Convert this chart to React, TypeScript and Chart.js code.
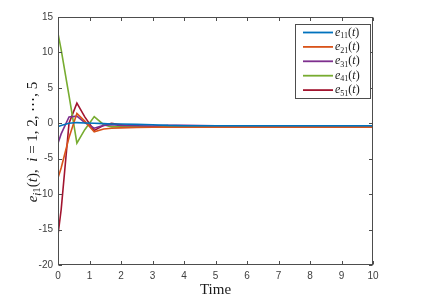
import React, { useEffect, useRef } from 'react';
import { Chart, registerables } from 'chart.js';

Chart.register(...registerables);

// ---- data ----
const TIME = [0, 0.1, 0.35, 0.6, 0.85, 1.15, 1.45, 1.7, 2.0, 2.5, 3, 3.5, 4, 5, 6, 7, 8, 9, 10];
const E11 = [-0.45, -0.3, 0.0, 0.1, 0.05, 0.0, -0.05, -0.1, -0.1, -0.15, -0.2, -0.3, -0.35, -0.35, -0.35, -0.35, -0.35, -0.35, -0.35];
const E21 = [-7.7, -6.3, -2.0, 1.4, 0.3, -1.2, -0.8, -0.7, -0.65, -0.6, -0.55, -0.55, -0.55, -0.55, -0.55, -0.55, -0.55, -0.55, -0.55];
const E31 = [-2.8, -1.5, 0.9, 1.0, 0.1, -0.7, -0.3, -0.2, -0.3, -0.35, -0.4, -0.3, -0.3, -0.35, -0.35, -0.35, -0.35, -0.35, -0.35];
const E41 = [12.7, 10.4, 3.9, -2.8, -0.9, 0.95, -0.2, -0.5, -0.5, -0.5, -0.45, -0.45, -0.45, -0.45, -0.45, -0.45, -0.45, -0.45, -0.45];
const E51 = [-15.7, -12.2, 0.0, 2.85, 0.9, -1.0, -0.3, 0.0, -0.2, -0.5, -0.5, -0.5, -0.55, -0.55, -0.55, -0.55, -0.55, -0.55, -0.55];
const SERIES = [E11, E21, E31, E41, E51];
const SUBSCRIPTS = ['11', '21', '31', '41', '51'];
const COLORS = ['#0072BD', '#D95319', '#7E2F8E', '#77AC30', '#A2142F'];
const X_MIN = 0, X_MAX = 10, X_STEP = 1;
const Y_MIN = -20, Y_MAX = 15, Y_STEP = 5;
const X_TITLE = 'Time';

const SERIF = '"Liberation Serif", "DejaVu Serif", serif';
const SANS = '"Liberation Sans", Arial, sans-serif';

type Seg = [string, 'i' | 'r' | 'si' | 'sr'];

function segFont(style: string, size: number) {
  const sub = style.startsWith('s');
  const it = style.endsWith('i');
  const s = sub ? Math.round(size * 0.7) : size;
  return `${it ? 'italic ' : ''}${s}px ${SERIF}`;
}

function measureRich(ctx: CanvasRenderingContext2D, segs: Seg[], size: number) {
  let w = 0;
  for (const [t, st] of segs) {
    ctx.font = segFont(st, size);
    w += ctx.measureText(t).width;
  }
  return w;
}

function drawRich(ctx: CanvasRenderingContext2D, segs: Seg[], x: number, y: number, size: number) {
  let cx = x;
  ctx.textBaseline = 'alphabetic';
  ctx.textAlign = 'left';
  for (const [t, st] of segs) {
    ctx.font = segFont(st, size);
    const dy = st.startsWith('s') ? size * 0.22 : 0;
    ctx.fillText(t, cx, y + dy);
    cx += ctx.measureText(t).width;
  }
}

const framePlugin = {
  id: 'matlabFrame',
  afterDraw(chart: any) {
    const { ctx, chartArea: a, scales } = chart;
    ctx.save();
    const L = Math.round(a.left) + 0.5, R = Math.round(a.right) - 0.5;
    const T = Math.round(a.top) + 0.5, B = Math.round(a.bottom) - 0.5;
    ctx.strokeStyle = '#4d4d4d';
    ctx.lineWidth = 1;
    ctx.strokeRect(L, T, R - L, B - T);
    ctx.beginPath();
    for (let v = X_MIN; v <= X_MAX; v += X_STEP) {
      const px = Math.round(scales.x.getPixelForValue(v)) + 0.5;
      ctx.moveTo(px, B); ctx.lineTo(px, B - 3.5);
      ctx.moveTo(px, T); ctx.lineTo(px, T + 3.5);
    }
    for (let v = Y_MIN; v <= Y_MAX; v += Y_STEP) {
      const py = Math.round(scales.y.getPixelForValue(v)) + 0.5;
      ctx.moveTo(L, py); ctx.lineTo(L + 3.5, py);
      ctx.moveTo(R, py); ctx.lineTo(R - 3.5, py);
    }
    ctx.stroke();

    // x title
    ctx.fillStyle = '#1a1a1a';
    ctx.font = `15px ${SERIF}`;
    ctx.textAlign = 'center';
    ctx.textBaseline = 'alphabetic';
    ctx.fillText(X_TITLE, (a.left + a.right) / 2, 294);

    // y title (rotated)
    const ySegs: Seg[] = [['e', 'i'], ['i', 'si'], ['1', 'sr'], ['(', 'r'], ['t', 'i'], ['),  ', 'r'], ['i', 'i'], [' = 1, 2, ', 'r'], ['\u22EF', 'r'], [', 5', 'r']];
    const ysize = 15;
    const yw = measureRich(ctx, ySegs, ysize);
    ctx.save();
    ctx.translate(37, (a.top + a.bottom) / 2 + 1);
    ctx.rotate(-Math.PI / 2);
    drawRich(ctx, ySegs, -yw / 2, 0, ysize);
    ctx.restore();

    // legend
    const lx = 295, ly = 24, lw = 75, lh = 74;
    ctx.fillStyle = '#ffffff';
    ctx.fillRect(lx, ly, lw, lh);
    ctx.strokeStyle = '#4d4d4d';
    ctx.lineWidth = 1;
    ctx.strokeRect(lx + 0.5, ly + 0.5, lw, lh);
    SUBSCRIPTS.forEach((s, i) => {
      const ry = 32.5 + i * 14.4;
      ctx.strokeStyle = COLORS[i];
      ctx.lineWidth = 1.8;
      ctx.beginPath();
      ctx.moveTo(303, ry); ctx.lineTo(333, ry);
      ctx.stroke();
      ctx.fillStyle = '#1a1a1a';
      drawRich(ctx, [['e', 'i'], [s, 'sr'], ['(', 'r'], ['t', 'i'], [')', 'r']], 335, ry + 3, 12);
    });
    ctx.restore();
  },
};

export default function App() {
  const ref = useRef<HTMLCanvasElement>(null);
  useEffect(() => {
    if (!ref.current) return;
    const chart = new Chart(ref.current, {
      type: 'line',
      data: {
        datasets: SERIES.map((vals, i) => ({
          label: `e${SUBSCRIPTS[i]}(t)`,
          data: TIME.map((t, k) => ({ x: t, y: vals[k] })),
          borderColor: COLORS[i],
          backgroundColor: COLORS[i],
          borderWidth: 1.6,
          pointRadius: 0,
          tension: 0,
          fill: false,
        })),
      },
      options: {
        responsive: false,
        animation: false,
        layout: { padding: { left: 0, top: 17, right: 52, bottom: 0 } },
        plugins: { legend: { display: false }, tooltip: { enabled: false } },
        scales: {
          x: {
            type: 'linear', min: X_MIN, max: X_MAX,
            grid: { display: false, drawTicks: false }, border: { display: false },
            ticks: { stepSize: X_STEP, padding: 5, color: '#404040', font: { family: SANS, size: 10 } },
            afterFit: (s: any) => { s.height = 35; },
          },
          y: {
            type: 'linear', min: Y_MIN, max: Y_MAX,
            grid: { display: false, drawTicks: false }, border: { display: false },
            ticks: { stepSize: Y_STEP, padding: 5, color: '#404040', font: { family: SANS, size: 10 } },
            afterFit: (s: any) => { s.width = 58; },
          },
        },
      },
      plugins: [framePlugin],
    } as any);
    return () => chart.destroy();
  }, []);
  return (
    <div style={{ position: 'absolute', left: 0, top: 0, width: 425, height: 300, background: '#fff' }}>
      <canvas ref={ref} width={425} height={300} style={{ display: 'block' }} />
    </div>
  );
}
